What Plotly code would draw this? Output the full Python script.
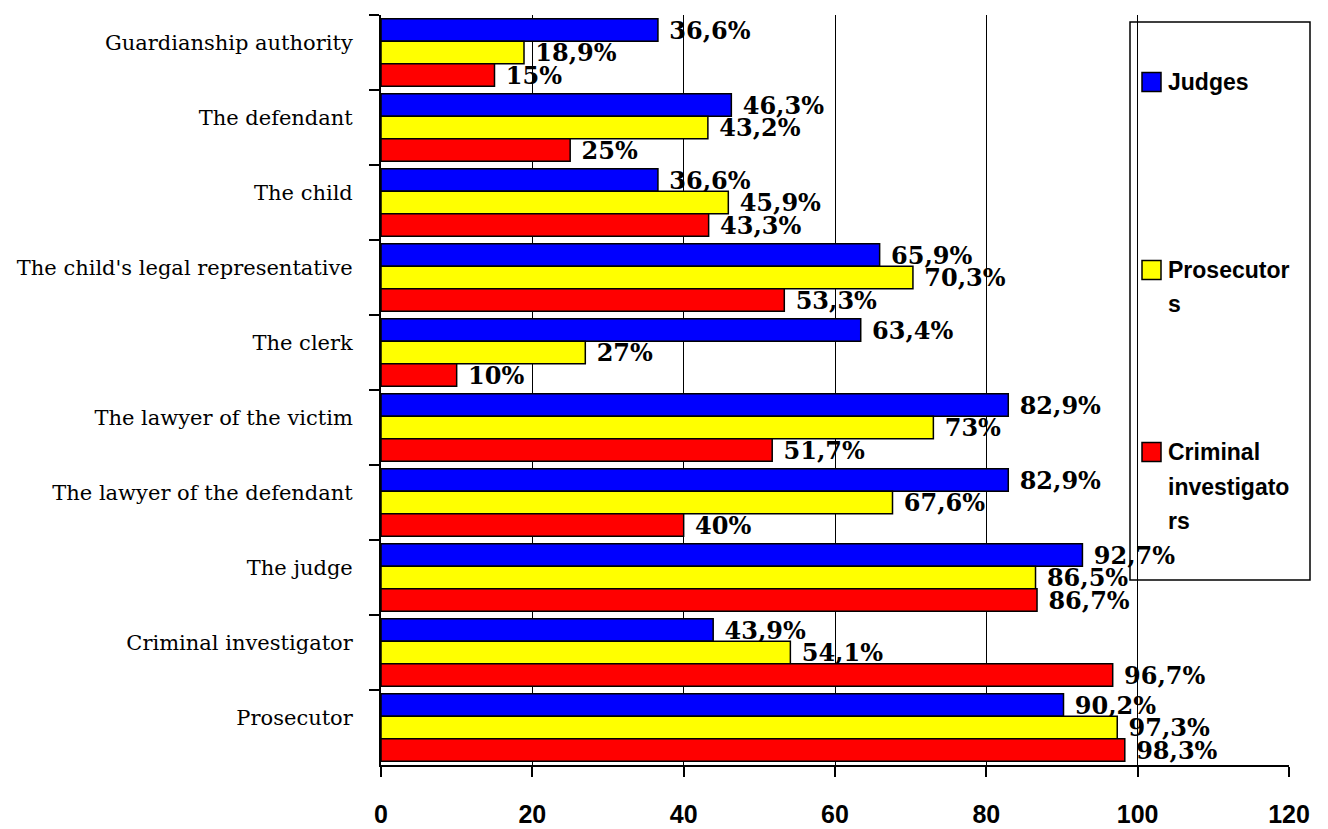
import plotly.graph_objects as go

categories = [
    "Guardianship authority",
    "The defendant",
    "The child",
    "The child's legal representative",
    "The clerk",
    "The lawyer of the victim",
    "The lawyer of the defendant",
    "The judge",
    "Criminal investigator",
    "Prosecutor",
]
judges = [36.6, 46.3, 36.6, 65.9, 63.4, 82.9, 82.9, 92.7, 43.9, 90.2]
prosecutors = [18.9, 43.2, 45.9, 70.3, 27, 73, 67.6, 86.5, 54.1, 97.3]
investigators = [15, 25, 43.3, 53.3, 10, 51.7, 40, 86.7, 96.7, 98.3]
x_ticks = [0, 20, 40, 60, 80, 100, 120]

series = [
    ("Judges", judges, "#0000FF"),
    ("Prosecutors", prosecutors, "#FFFF00"),
    ("Criminal investigators", investigators, "#FF0000"),
]

W, H = 1328, 829
L, R, T, B = 381, 1289, 15, 765


def px(xp):
    return (xp - L) / (R - L)


def py(yp):
    return (B - yp) / (B - T)


def fmt(v):
    s = ("%g" % v).replace(".", ",")
    return "\u00a0" + s + "%"


fig = go.Figure()
for name, vals, col in series:
    fig.add_trace(go.Bar(
        y=categories, x=vals, orientation="h", name=name,
        marker=dict(color=col, line=dict(color="black", width=1.5)),
        text=[fmt(v) for v in vals], textposition="outside",
        constraintext="none", cliponaxis=False,
        textfont=dict(family="DejaVu Serif", size=24, color="black", weight="bold"),
        showlegend=False,
    ))

# custom legend
shapes = [dict(type="rect", xref="paper", yref="paper",
               x0=px(1130), x1=px(1310), y0=py(580), y1=py(22),
               line=dict(color="black", width=1.5), fillcolor="white", layer="between")]
leg_items = [
    ("#0000FF", 82, [("Judges", 82)]),
    ("#FFFF00", 270, [("Prosecutor", 270), ("s", 304)]),
    ("#FF0000", 452, [("Criminal", 452), ("investigato", 487), ("rs", 521)]),
]
annotations = []
for col, yc, lines in leg_items:
    shapes.append(dict(type="rect", xref="paper", yref="paper",
                       x0=px(1142), x1=px(1161), y0=py(yc + 9.5), y1=py(yc - 9.5),
                       line=dict(color="black", width=1.5), fillcolor=col, layer="above"))
    for txt, yl in lines:
        annotations.append(dict(text=txt, xref="paper", yref="paper", x=px(1166), y=py(yl),
                                xanchor="left", yanchor="middle", showarrow=False,
                                font=dict(family="Liberation Sans", size=23, color="black", weight="bold")))

fig.update_layout(
    width=W, height=H,
    margin=dict(l=L, r=W - R, t=T, b=H - B, pad=0, autoexpand=False),
    paper_bgcolor="white", plot_bgcolor="white",
    barmode="group", bargap=0.1, bargroupgap=0,
    shapes=shapes, annotations=annotations,
    xaxis=dict(range=[0, 120], tickvals=x_ticks, ticktext=[str(t) for t in x_ticks],
               automargin=False,
               showgrid=True, gridcolor="black", gridwidth=1, zeroline=False,
               showline=True, linecolor="black", linewidth=2,
               ticks="outside", ticklen=10, tickwidth=2, tickcolor="black",
               ticklabelstandoff=16,
               tickfont=dict(family="Liberation Sans", size=25, color="black", weight="bold")),
    yaxis=dict(type="category", autorange="reversed", showgrid=False, automargin=False,
               showline=True, linecolor="black", linewidth=2,
               ticks="outside", tickson="boundaries", ticklen=10, tickwidth=2, tickcolor="black",
               ticklabelstandoff=22, ticklabelshift=10,
               tickfont=dict(family="DejaVu Serif", size=21, color="black")),
)

fig.write_html("out.html")
